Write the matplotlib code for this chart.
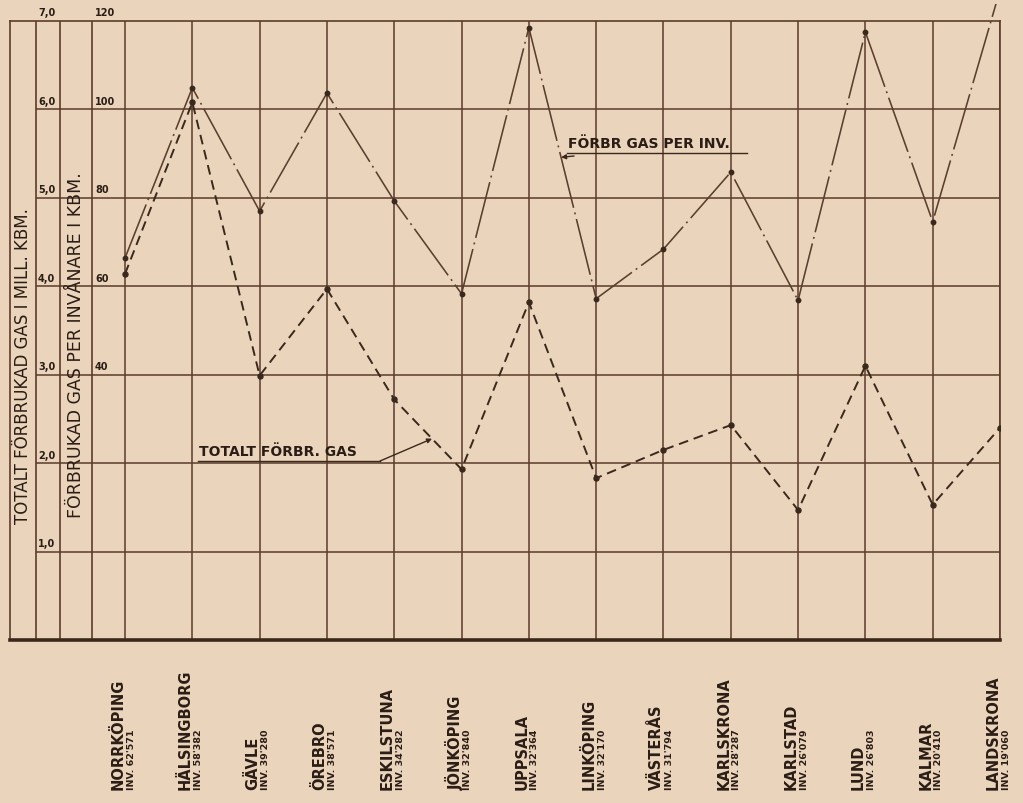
import matplotlib
matplotlib.use("Agg")
import matplotlib.pyplot as plt
import numpy as np
from matplotlib.transforms import Bbox, TransformedBbox, blended_transform_factory

# ---------------- data ----------------
cities = ["NORRKÖPING", "HÄLSINGBORG", "GÄVLE", "ÖREBRO", "ESKILSTUNA",
          "JÖNKÖPING", "UPPSALA", "LINKÖPING", "VÄSTERÅS", "KARLSKRONA",
          "KARLSTAD", "LUND", "KALMAR", "LANDSKRONA"]
inhabitants = ["62'571", "58'382", "39'280", "38'571", "34'282", "32'840",
               "32'364", "32'170", "31'794", "28'287", "26'079", "26'803",
               "20'410", "19'060"]
gas_per_inv = [66.4, 104.9, 77.0, 103.7, 79.3, 58.3, 118.5, 57.2, 68.4,
               85.8, 56.8, 117.5, 74.6, 127.0]          # kbm per invånare
gas_total = [4.14, 6.08, 2.99, 3.97, 2.72, 1.93, 3.82, 1.83, 2.15,
             2.43, 1.47, 3.10, 1.53, 2.40]               # mill. kbm
per_inv_ticks = [120, 100, 80, 60, 40]
total_ticks = [7, 6, 5, 4, 3, 2, 1]
total_tick_labels = ["7,0", "6,0", "5,0", "4,0", "3,0", "2,0", "1,0"]
title_total = "TOTALT FÖRBRUKAD GAS I MILL. KBM."
title_per_inv = "FÖRBRUKAD GAS PER INVÅNARE I KBM."
label_total = "TOTALT FÖRBR. GAS"
label_per_inv = "FÖRBR GAS PER INV."

# ---------------- style ----------------
PAPER = "#ead5bc"
INK = "#5a3c2a"
TEXT = "#2b1d15"
LINE_PI = "#5a3e2e"
LINE_TOT = "#3a281d"

W, H = 1023, 804
fig = plt.figure(figsize=(W / 100, H / 100), dpi=100, facecolor=PAPER)

left_px, right_px, top_px, bot_px = 10, 1000, 22, 641
ax = fig.add_axes([left_px / W, 1 - bot_px / H,
                   (right_px - left_px) / W, (bot_px - top_px) / H])
ax.set_facecolor(PAPER)
step = 67.3
x = np.arange(len(cities))
ax.set_xlim(-(125 - left_px) / step, len(cities) - 1)
ax.set_ylim(-20, 120)
ax.set_xticks([])
ax.set_yticks([])
for side, sp in ax.spines.items():
    sp.set_color(INK)
    sp.set_linewidth(1.2)
ax.spines["bottom"].set_linewidth(2.6)
ax.spines["bottom"].set_color("#3c2819")

ax2 = ax.twinx()
ax2.set_ylim(0, 7)
ax2.set_yticks([])
for sp in ax2.spines.values():
    sp.set_visible(False)

# column separators (px 36, 60, 92)
col_seps = [(36 - 125) / step, (60 - 125) / step, (92 - 125) / step]
ax.vlines(col_seps, -20, 120, color=INK, lw=1.2, zorder=1)
ax.vlines(x, -20, 120, color=INK, lw=1.1, zorder=1)
ax.hlines([0, 20, 40, 60, 80, 100], col_seps[0], x[-1], color=INK, lw=1.1, zorder=1)

# tick labels
for v in per_inv_ticks:
    ax.text((95 - 125) / step, v + 0.8, str(v), fontsize=7, fontweight="bold",
            color=TEXT, ha="left", va="bottom", zorder=5)
for v, lab in zip(total_ticks, total_tick_labels):
    ax2.text((38 - 125) / step, v + 0.04, lab, fontsize=7, fontweight="bold",
             color=TEXT, ha="left", va="bottom", zorder=5)

# axis titles in the left columns
fig.text(23 / W, 1 - 366 / H, title_total, rotation=90, ha="center", va="center",
         fontsize=12, color=TEXT)
fig.text(76 / W, 1 - 345 / H, title_per_inv, rotation=90, ha="center", va="center",
         fontsize=12.5, color=TEXT)

# data lines
clip = TransformedBbox(Bbox([[0, -0.05], [1, 1.027]]), ax.transAxes)
l1, = ax.plot(x, gas_per_inv, color=LINE_PI, lw=1.15, dashes=(36, 3, 1.2, 3),
              marker="o", ms=3.2, mfc=LINE_TOT, mec=LINE_TOT, zorder=4)
l1.set_clip_box(clip)
l2, = ax2.plot(x, gas_total, color=LINE_TOT, lw=1.4, dashes=(5, 3),
               marker="o", ms=3.6, mfc=LINE_TOT, mec=LINE_TOT, zorder=4)

# city labels below chart
bt = blended_transform_factory(ax.transData, fig.transFigure)
ybase = 1 - 790 / H
for i, (c, inv) in enumerate(zip(cities, inhabitants)):
    ax.text(i - 0.105, ybase, c, transform=bt, rotation=90, ha="center", va="bottom",
            fontsize=10.5, fontweight="bold", color=TEXT, clip_on=False)
    ax.text(i + 0.09, ybase, "INV. " + inv, transform=bt, rotation=90, ha="center",
            va="bottom", fontsize=6.8, fontweight="bold", color=TEXT, clip_on=False)

# annotation helpers (pixel positions of the hand-drawn labels)
def px_x(px):
    return (px - 125) / step

def px_y(py):
    return 120 - (py - top_px) / ((bot_px - top_px) / 7) * 20

y_ul = px_y(462)
ax.text(px_x(199), y_ul + 0.7, label_total, fontsize=10, fontweight="bold",
        color=TEXT, ha="left", va="bottom", zorder=5)
ax.plot([px_x(198), px_x(380)], [y_ul, y_ul], color=LINE_TOT, lw=1.0, zorder=5)
xt = px_x(432)
ax2.annotate("", xy=(xt, np.interp(xt, x, gas_total)), xycoords="data",
             xytext=(px_x(380), y_ul), textcoords=ax.transData,
             arrowprops=dict(arrowstyle="-|>", mutation_scale=7, lw=1.0,
                             color=LINE_TOT, shrinkA=0, shrinkB=0), zorder=5)

y_ul2 = px_y(154)
ax.text(px_x(568), y_ul2 + 0.7, label_per_inv, fontsize=10, fontweight="bold",
        color=TEXT, ha="left", va="bottom", zorder=5)
ax.plot([px_x(567), px_x(747)], [y_ul2, y_ul2], color=LINE_TOT, lw=1.0, zorder=5)
xp = px_x(561)
ax.annotate("", xy=(xp, np.interp(xp, x, gas_per_inv)), xycoords="data",
            xytext=(px_x(574), px_y(157)), textcoords="data",
            arrowprops=dict(arrowstyle="-|>", mutation_scale=7, lw=1.0,
                            color=LINE_TOT, shrinkA=0, shrinkB=0), zorder=5)

fig.savefig("out.png", dpi=100, facecolor=PAPER)
